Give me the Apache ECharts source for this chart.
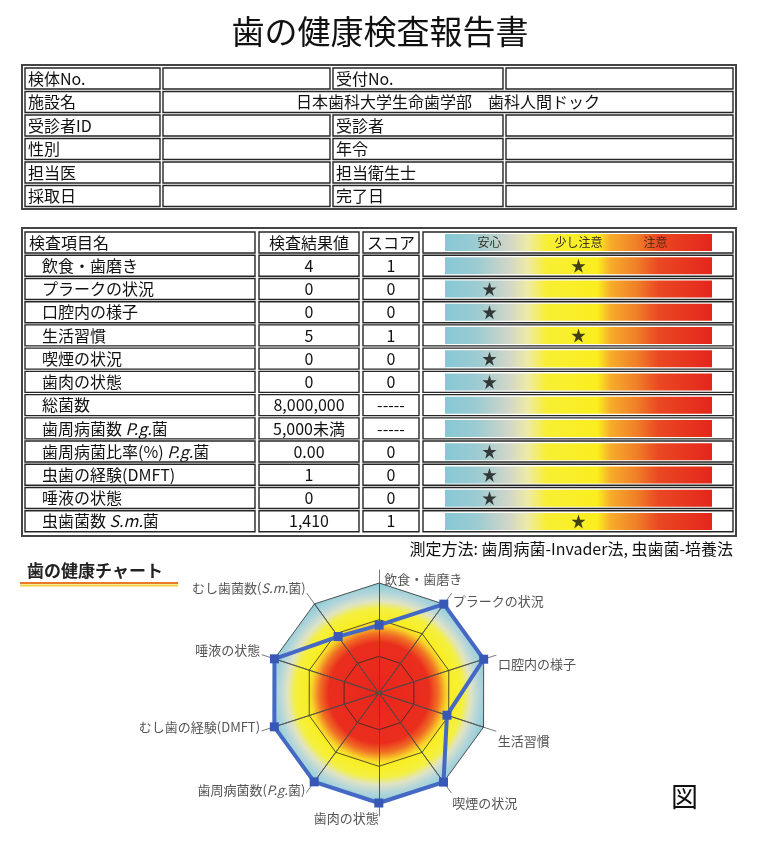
<!DOCTYPE html>
<html>
<head>
<meta charset="utf-8">
<script src="https://cdn.jsdelivr.net/npm/echarts@6/dist/echarts.min.js"></script>
<style>
  html, body { margin: 0; background: #fff; }
  #main { width: 760px; height: 845px; }
</style>
</head>
<body>
<div id="main"></div>
<script>
// 受診者情報
const infoLeft = ['検体No.', '施設名', '受診者ID', '性別', '担当医', '採取日']
const infoRight = ['受付No.', '', '受診者', '年令', '担当衛生士', '完了日']
const facilityName = '日本歯科大学生命歯学部　歯科人間ドック'

// 検査結果
const headerNames = ['検査項目名', '検査結果値', 'スコア']
const itemNames = ['飲食・歯磨き', 'プラークの状況', '口腔内の様子', '生活習慣', '喫煙の状況', '歯肉の状態',
  '総菌数', '歯周病菌数 P.g.菌', '歯周病菌比率(%) P.g.菌', '虫歯の経験(DMFT)', '唾液の状態', '虫歯菌数 S.m.菌']
const resultValues = ['4', '0', '0', '5', '0', '0', '8,000,000', '5,000未満', '0.00', '1', '0', '1,410']
const scoreValues = ['1', '0', '0', '1', '0', '0', '-----', '-----', '0', '0', '0', '1']
const levelNames = ['安心', '少し注意', '注意']
const starLevels = ['少し注意', '安心', '安心', '少し注意', '安心', '安心', null, null, '安心', '安心', '安心', '少し注意']
const methodNote = '測定方法: 歯周病菌-Invader法, 虫歯菌-培養法'

// 歯の健康チャート (上から反時計回り)
const radarNames = ['飲食・歯磨き', 'むし歯菌数(S.m.菌)', '唾液の状態', 'むし歯の経験(DMFT)', '歯周病菌数(P.g.菌)',
  '歯肉の状態', '喫煙の状況', '生活習慣', '口腔内の様子', 'プラークの状況']
const radarValues = [1.85, 1.9, 3, 3, 3, 3, 3, 1.95, 3, 3]
const radarMax = 3

const FONT = '"Noto Sans CJK JP", sans-serif'
const chart = echarts.init(document.getElementById('main'))

function richName (text, base) {
  return text.split(/(P\.g\.|S\.m\.)/).filter(s => s).map(s => {
    let key = /^(P\.g\.|S\.m\.)$/.test(s) ? base + 'i' : base
    return '{' + key + '|' + s + '}'
  }).join('')
}

// 表の枠線
function cell (x, y, w, h) {
  return {
    type: 'rect', silent: true, z: 1,
    shape: { x: x, y: y, width: w, height: h },
    style: { fill: null, stroke: '#262626', lineWidth: 1.4 }
  }
}
function label (text, x, y, opt) {
  return {
    type: 'text', silent: true, x: x, y: y, z: 2,
    style: Object.assign({
      text: text, fontSize: 16, fontFamily: FONT, fill: '#111',
      align: 'left', verticalAlign: 'middle'
    }, opt || {})
  }
}

let graphics = []
// 表1
const t1Top = 68, t1Pitch = 23.5, t1H = 21
const t1Cols = [[25, 135], [163, 167], [333, 170], [506, 227]]
graphics.push({ type: 'rect', silent: true, shape: { x: 22, y: 65, width: 714, height: 144 },
  style: { fill: null, stroke: '#444', lineWidth: 2 } })
infoLeft.forEach((name, i) => {
  let y = t1Top + i * t1Pitch
  graphics.push(cell(t1Cols[0][0], y, t1Cols[0][1], t1H))
  graphics.push(label(name, t1Cols[0][0] + 3, y + t1H / 2))
  if (infoRight[i]) {
    graphics.push(cell(t1Cols[1][0], y, t1Cols[1][1], t1H))
    graphics.push(cell(t1Cols[2][0], y, t1Cols[2][1], t1H))
    graphics.push(cell(t1Cols[3][0], y, t1Cols[3][1], t1H))
    graphics.push(label(infoRight[i], t1Cols[2][0] + 3, y + t1H / 2))
  } else {
    graphics.push(cell(t1Cols[1][0], y, 733 - t1Cols[1][0], t1H))
    graphics.push(label(facilityName, (t1Cols[1][0] + 733) / 2, y + t1H / 2, { align: 'center' }))
  }
})

// 表2
const t2Top = 231, t2Pitch = 23.23, t2H = 21
const t2Cols = [[25, 230], [259, 100], [363, 56], [423, 310]]
graphics.push({ type: 'rect', silent: true, shape: { x: 22, y: 228, width: 714, height: 308 },
  style: { fill: null, stroke: '#444', lineWidth: 2 } })
for (let i = 0; i <= itemNames.length; i++) {
  t2Cols.forEach(c => graphics.push(cell(c[0], t2Top + i * t2Pitch + 1, c[1], t2H)))
}

graphics.push(label(methodNote, 733, 549, { align: 'right', fontSize: 16 }))
graphics.push(label('歯の健康チャート', 27, 571, { fontSize: 17, fontWeight: 'bold', fill: '#222' }))
graphics.push({ type: 'line', silent: true, shape: { x1: 20, y1: 583, x2: 178, y2: 583 }, style: { stroke: '#e8782a', lineWidth: 2 } })
graphics.push({ type: 'line', silent: true, shape: { x1: 20, y1: 585.5, x2: 178, y2: 585.5 }, style: { stroke: '#f2d23a', lineWidth: 2 } })
graphics.push(label('図', 671, 797, { fontSize: 27 }))

const barGradient = new echarts.graphic.LinearGradient(0, 0, 1, 0, [
  { offset: 0, color: '#86c8d6' },
  { offset: 0.12, color: '#9ccbd2' },
  { offset: 0.24, color: '#d2d6c8' },
  { offset: 0.31, color: '#eeeaa6' },
  { offset: 0.38, color: '#f8ef34' },
  { offset: 0.57, color: '#faee1e' },
  { offset: 0.62, color: '#f6ad2a' },
  { offset: 0.72, color: '#f07e28' },
  { offset: 0.8, color: '#ea4822' },
  { offset: 1, color: '#e4261c' }
])

const radarFill = {
  type: 'radial', x: 379, y: 693, r: 112, global: true,
  colorStops: [
    { offset: 0, color: '#e8261c' },
    { offset: 0.45, color: '#ea2e1e' },
    { offset: 0.53, color: '#f07024' },
    { offset: 0.6, color: '#f8d02a' },
    { offset: 0.64, color: '#f9ee22' },
    { offset: 0.75, color: '#f4f040' },
    { offset: 0.82, color: '#dfe3c4' },
    { offset: 0.89, color: '#b4d6da' },
    { offset: 1, color: '#80c8d8' }
  ]
}

const yCats = [headerNames[0]].concat(itemNames)
const textRich = {
  h: { fontSize: 16, fontFamily: FONT, color: '#111' },
  n: { fontSize: 16, fontFamily: FONT, color: '#111' },
  ni: { fontSize: 16, fontFamily: FONT, color: '#111', fontStyle: 'italic' },
  p: { fontSize: 13, fontFamily: FONT }
}
function columnAxis (data, margin, align) {
  return {
    type: 'category', data: data, inverse: true, position: 'left', gridIndex: 0,
    axisLine: { show: false }, axisTick: { show: false }, splitLine: { show: false },
    axisLabel: { interval: 0, margin: margin, align: align, fontSize: 16, fontFamily: FONT, color: '#111' }
  }
}
let nameAxis = columnAxis(yCats, 416, 'left')
nameAxis.axisLabel.formatter = (v, i) => i === 0 ? '{h|' + v + '}' : '{p|\u3000}' + richName(v, 'n')
nameAxis.axisLabel.rich = textRich

// レーダーの項目名: 右側は少し下、左側は少し上にずらす
const nameStyle = { fontSize: 13, fontFamily: FONT, color: '#555' }
const radarRich = {
  t: Object.assign({ padding: [22, 0, 0, 5] }, nameStyle),
  ti: Object.assign({ padding: [22, 0, 0, 0], fontStyle: 'italic' }, nameStyle),
  r: Object.assign({ padding: [18, 0, 0, 0] }, nameStyle),
  ri: Object.assign({ padding: [18, 0, 0, 0], fontStyle: 'italic' }, nameStyle),
  l: Object.assign({ padding: [0, 0, 8, 0] }, nameStyle),
  li: Object.assign({ padding: [0, 0, 8, 0], fontStyle: 'italic' }, nameStyle),
  b: Object.assign({ padding: [0, 0, 0, 0] }, nameStyle),
  bi: Object.assign({ fontStyle: 'italic' }, nameStyle)
}
function radarNameFormat (v) {
  let i = radarNames.indexOf(v)
  let key = i === 0 ? 't' : (i === 5 ? 'b' : (i < 5 ? 'l' : 'r'))
  return richName(v, key)
}

const option = {
  backgroundColor: '#fff',
  animation: false,
  title: {
    text: '歯の健康検査報告書', left: 'center', top: 10,
    textStyle: { fontSize: 33, fontWeight: 'normal', color: '#111', fontFamily: FONT }
  },
  graphic: graphics,
  grid: { left: 445, top: t2Top, width: 267, height: t2Pitch * yCats.length, containLabel: false },
  xAxis: [
    { type: 'value', min: 0, max: 1, show: false },
    {
      type: 'category', data: levelNames, position: 'top', z: 10,
      axisLine: { show: false }, axisTick: { show: false }, splitLine: { show: false },
      axisLabel: {
        inside: true, margin: 5, fontSize: 12, fontFamily: FONT, color: '#3a3020',
        formatter: v => v === '注意' ? '{r|' + v + '}' : v,
        rich: { r: { fontSize: 12, fontFamily: FONT, color: '#5a2a14', padding: [0, 24, 0, 0] } }
      }
    }
  ],
  yAxis: [
    nameAxis,
    columnAxis([headerNames[1]].concat(resultValues), 136, 'center'),
    columnAxis([headerNames[2]].concat(scoreValues), 54, 'center')
  ],
  radar: [
    {
      center: [379, 693], radius: 110, startAngle: 89.9, shape: 'polygon', splitNumber: 3,
      indicator: radarNames.map(n => ({ name: n, min: 0, max: radarMax })),
      axisName: { show: false },
      axisLine: { lineStyle: { color: '#2a2a2a', width: 0.8 } },
      splitLine: { lineStyle: { color: '#2a2a2a', width: 0.8 } },
      splitArea: { show: true, areaStyle: { color: [radarFill] } }
    },
    {
      center: [379, 693], radius: 123, startAngle: 89.9, shape: 'polygon', splitNumber: 3,
      indicator: radarNames.map(n => ({ name: n, min: 0, max: radarMax })),
      nameGap: 2,
      axisName: {
        color: '#555', fontSize: 13, fontFamily: FONT,
        formatter: radarNameFormat,
        rich: radarRich
      },
      axisLine: { lineStyle: { color: '#555', width: 0.8 } },
      splitLine: { show: false },
      splitArea: { show: false }
    }
  ],
  series: [
    {
      type: 'bar', xAxisIndex: 0, yAxisIndex: 0, silent: true, barWidth: 17,
      data: yCats.map(() => 1),
      itemStyle: { color: barGradient }
    },
    {
      type: 'scatter', xAxisIndex: 1, yAxisIndex: 0, silent: true, z: 4,
      symbol: 'path://M50,0 L61.8,35.1 L100,35.1 L69.1,57.3 L80.9,92.7 L50,70.5 L19.1,92.7 L30.9,57.3 L0,35.1 L38.2,35.1 Z',
      symbolSize: 14, itemStyle: { color: '#111' },
      data: itemNames.map((n, i) => starLevels[i] ? [starLevels[i], n] : null).filter(d => d)
    },
    {
      type: 'radar', radarIndex: 0, z: 5, silent: true,
      symbol: 'rect', symbolSize: 9,
      lineStyle: { color: '#4468c4', width: 4 },
      itemStyle: { color: '#3858b8' },
      data: [{ value: radarValues, name: '歯の健康チャート' }]
    }
  ]
}
chart.setOption(option)
</script>
</body>
</html>
